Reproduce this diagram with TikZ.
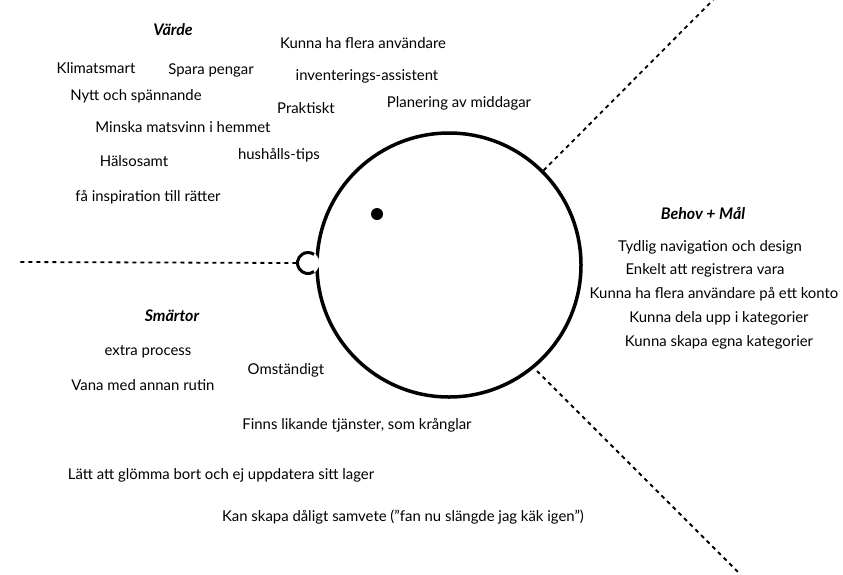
\documentclass[tikz,border=0pt]{standalone}
\usepackage{fontspec}
\setmainfont{Lato}
\usetikzlibrary{positioning}

\tikzset{
    note/.style={font=\fontsize{14.9}{17}\selectfont, inner sep=0pt},
    heading/.style={font=\fontsize{16}{18}\selectfont\bfseries\itshape, inner sep=0pt},
    dashline/.style={line width=1.8pt, dash pattern=on 4pt off 4pt}
}

\begin{document}
\begin{tikzpicture}[x=1pt, y=-1pt]
    \useasboundingbox (0,0) rectangle (843,574);

    % Main circle and eye
    \node[circle, draw, line width=3.5pt, minimum size=264pt, inner sep=0pt] (ring) at (449,265) {};
    \node[circle, fill=black, minimum size=12pt, inner sep=0pt] (eye) at (377,214) {};

    % Ear: white patch over the ring, open arc on the left
    \node[circle, fill=white, minimum size=23pt, inner sep=0pt] (ear) at (308,263) {};
    \draw[line width=3pt] (ear.center) ++(55:10.5) arc[start angle=55, end angle=305, radius=10.5];

    % Free ends of the dashed lines
    \coordinate (leftend) at (18,262);
    \coordinate (topend) at (713,0);
    \coordinate (lowstart) at (537,371);
    \coordinate (lowend) at (738,572);

    % Dashed lines
    \draw[dashline] (ear.west) -- (leftend);
    \draw[dashline] (ring.45) -- (topend);
    \draw[dashline] (lowstart) -- (lowend);

    % Värde
    \node[heading] (varde) at (173,30) {Värde};
    \node[note] (flera) at (363,43) {Kunna ha flera användare};
    \node[note] (klimat) at (96,68) {Klimatsmart};
    \node[note] (spara) at (211,70) {Spara pengar};
    \node[note] (invent) at (367,76) {inventerings-assistent};
    \node[note] (nytt) at (136,96) {Nytt och spännande};
    \node[note] (prakt) at (306,108) {Praktiskt};
    \node[note] (plan) at (459,103) {Planering av middagar};
    \node[note] (minska) at (183,127) {Minska matsvinn i hemmet};
    \node[note] (tips) at (279,155) {hushålls-tips};
    \node[note] (halsa) at (134,161) {Hälsosamt};
    \node[note] (insp) at (148,197) {få inspiration till rätter};

    % Behov + Mål
    \node[heading] (behov) at (703,213) {Behov + Mål};
    \node[note] (nav) at (710,247) {Tydlig navigation och design};
    \node[note] (reg) at (705,270) {Enkelt att registrera vara};
    \node[note] (konto) at (714,294) {Kunna ha flera användare på ett konto};
    \node[note] (dela) at (719,318) {Kunna dela upp i kategorier};
    \node[note] (egna) at (719,342) {Kunna skapa egna kategorier};

    % Smärtor
    \node[heading] (smartor) at (172,316) {Smärtor};
    \node[note] (extra) at (148,352) {extra process};
    \node[note] (omst) at (286,370) {Omständigt};
    \node[note] (vana) at (143,385) {Vana med annan rutin};
    \node[note] (likande) at (357,425) {Finns likande tjänster, som krånglar};
    \node[note] (glomma) at (221,475) {Lätt att glömma bort och ej uppdatera sitt lager};
    \node[note] (samvete) at (403,517) {Kan skapa dåligt samvete (”fan nu slängde jag käk igen”)};
\end{tikzpicture}
\end{document}
